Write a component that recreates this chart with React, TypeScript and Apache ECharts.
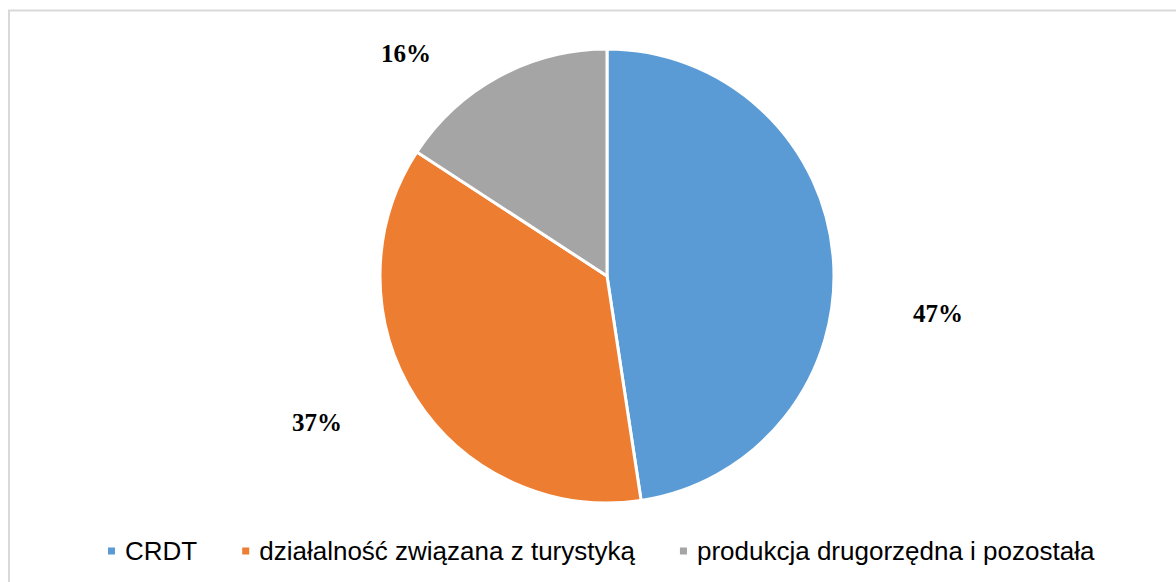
import React, { useEffect, useRef } from "react";
import * as echarts from "echarts";

const categories = ["CRDT", "działalność związana z turystyką", "produkcja drugorzędna i pozostała"];
const shares = [47.6, 36.6, 15.8];
const shareLabels = ["47%", "37%", "16%"];
const colors = ["#5B9BD5", "#ED7D31", "#A5A5A5"];

export default function App() {
  const ref = useRef<HTMLDivElement>(null);
  useEffect(() => {
    document.body.style.margin = "0";
    if (!ref.current) return;
    const chart = echarts.init(ref.current, null, { renderer: "svg" });
    const labelPos: number[][] = [
      [938, 313],
      [317, 422],
      [406, 53],
    ];
    chart.setOption({
      animation: false,
      backgroundColor: "#ffffff",
      graphic: [
        {
          type: "rect",
          shape: { x: 9, y: 10.5, width: 1200, height: 600 },
          style: { fill: "none", stroke: "#d9d9d9", lineWidth: 2 },
          silent: true,
        },
      ],
      legend: {
        left: 106,
        top: 538,
        padding: 0,
        icon: "rect",
        itemWidth: 9,
        itemHeight: 9,
        itemGap: 43,
        data: categories,
        textStyle: {
          fontFamily: "Liberation Sans, Arial, sans-serif",
          fontSize: 26,
          color: "#000000",
          padding: [0, 0, 0, 4],
        },
      },
      series: [
        {
          type: "pie",
          center: [607, 276],
          radius: 227,
          startAngle: 90,
          clockwise: true,
          itemStyle: { borderColor: "#ffffff", borderWidth: 3 },
          label: {
            show: true,
            position: "outside",
            fontFamily: "Liberation Serif, Times New Roman, serif",
            fontWeight: "bold",
            fontSize: 25,
            color: "#000000",
            formatter: (p: any) => shareLabels[p.dataIndex],
          },
          labelLine: { show: false },
          labelLayout: (p: any) => ({
            x: labelPos[p.dataIndex][0],
            y: labelPos[p.dataIndex][1],
            align: "center",
            verticalAlign: "middle",
          }),
          emphasis: { disabled: true },
          data: categories.map((name, i) => ({
            name,
            value: shares[i],
            itemStyle: { color: colors[i] },
          })),
        },
      ],
    });
    return () => chart.dispose();
  }, []);
  return <div ref={ref} style={{ width: 1176, height: 582 }} />;
}
